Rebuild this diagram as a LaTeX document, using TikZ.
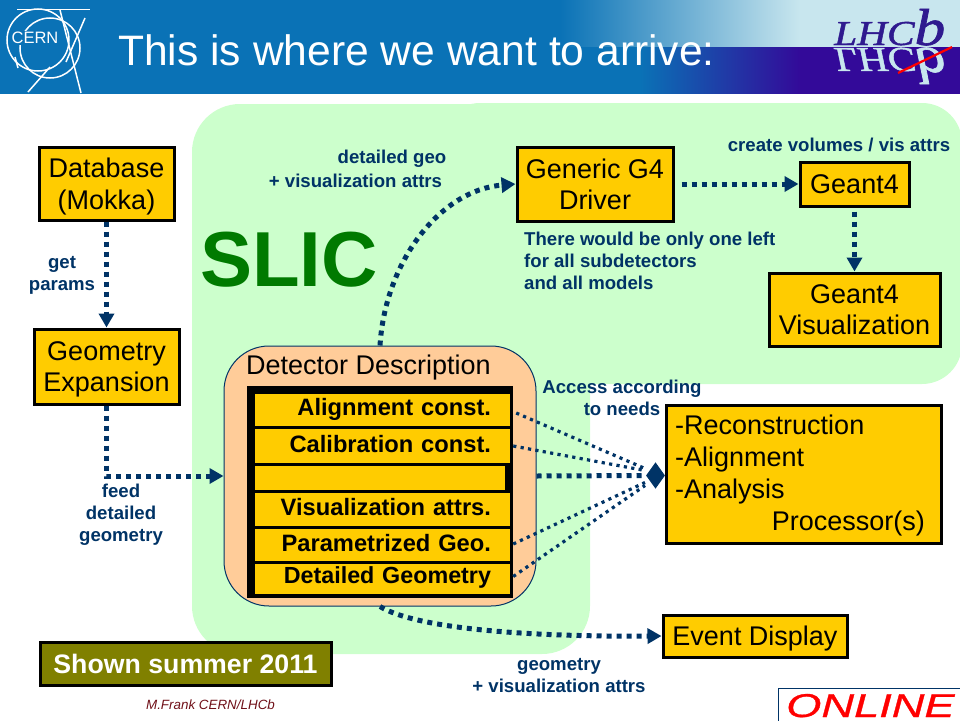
\documentclass[tikz,border=0pt]{standalone}
\usepackage{fontspec}
\setmainfont{Liberation Sans}
\newfontfamily\lhcfont[ItalicFeatures={FakeBold=1.2}]{Liberation Serif}
\newfontfamily\onlinefont[ItalicFeatures={FakeBold=0.8}]{Liberation Sans}
\usetikzlibrary{arrows.meta,shapes.geometric,calc}
\definecolor{barblue}{HTML}{0A72B6}
\definecolor{barlight}{HTML}{C8E6EE}
\definecolor{barpurple}{HTML}{330A99}
\definecolor{slicgreen}{HTML}{CCFFCC}
\definecolor{peach}{HTML}{FFCC99}
\definecolor{boxyellow}{HTML}{FFCC00}
\definecolor{navy}{HTML}{003366}
\definecolor{sliclabel}{HTML}{007A00}
\definecolor{olivebox}{HTML}{808000}
\definecolor{lhcpurple}{HTML}{2F1A8F}
\definecolor{authorred}{HTML}{701018}
\tikzset{
  box/.style={draw=black,line width=3pt,fill=boxyellow,inner sep=0pt,align=center,text depth=0pt,font=\fontsize{27}{31.5}\selectfont},
  rowbox/.style={fill=boxyellow,inner ysep=0pt,inner xsep=19pt,text width=217pt,align=right,minimum width=255pt,font=\fontsize{23.7}{28}\selectfont\bfseries},
  lbl/.style={text=navy,inner sep=0pt,align=center,font=\fontsize{18.6}{22}\selectfont\bfseries},
  thick link/.style={draw=navy,line width=5pt,dash pattern=on 5pt off 5pt},
  thin link/.style={draw=navy,line width=3.2pt,dash pattern=on 3.2pt off 4.3pt},
  tip/.style={-{Triangle[length=14pt,width=15pt]}},
  logo/.style={draw=white,line width=1.5pt}
}
\begin{document}
\begin{tikzpicture}[x=1pt,y=-1pt]
\useasboundingbox (0,0) rectangle (960,720);
% header
\fill[barblue] (0,0) rectangle (560,47);
\shade[left color=barblue,right color=barlight] (560,0) rectangle (800,47);
\fill[barlight] (800,0) rectangle (960,47);
\fill[barblue] (0,47) rectangle (640,93.5);
\shade[left color=barblue,right color=barpurple] (640,47) rectangle (800,93.5);
\fill[barpurple] (800,47) rectangle (960,93.5);
\node[text=white,inner sep=0pt,anchor=base west,font=\fontsize{42.6}{50}\selectfont] (title) at (118,65) {This is where we want to arrive:};
% CERN logo
\draw[logo] (38,40) circle (31);
\draw[logo] (50,48) circle (30);
\draw[logo] (17,9.3) -- (90,9.3);
\draw[logo] (85,18) -- (66,62);
\draw[logo] (60,10) -- (81,93);
\draw[logo] (28,92) -- (50,67);
\draw[logo] (15,57) -- (18,68);
\node[fill=barblue,inner sep=1pt,text=white,font=\fontsize{16.5}{18}\selectfont] (cern) at (35,38) {CERN};
% LHCb logo
\node[text=barlight,anchor=base west,inner sep=0pt,yscale=-1,xscale=1.18,transform shape,font=\lhcfont\itshape\fontsize{35}{40}\selectfont] (lhcm) at (834,48) {LHC{\fontsize{52}{52}\selectfont b}};
\node[text=lhcpurple,anchor=base west,inner sep=0pt,xscale=1.18,transform shape,font=\lhcfont\itshape\fontsize{35}{40}\selectfont] (lhc) at (834,45) {LHC{\fontsize{52}{52}\selectfont b}};
\draw[red,line width=2.2pt] (898,73) -- (952,47);
% green SLIC zone
\fill[slicgreen,rounded corners=48pt] (192,104) rectangle (590,654);
\fill[slicgreen,rounded corners=40pt] (440,103) rectangle (962,384);
\node[text=sliclabel,inner sep=0pt,font=\fontsize{78}{80}\selectfont\bfseries] (slic) at (289,260) {SLIC};
% detector description
\node[draw=navy,line width=1pt,fill=peach,rounded corners=45pt,minimum width=312pt,minimum height=260pt,inner sep=0pt] (det) at (380,476) {};
\node[inner sep=0pt,anchor=west,font=\fontsize{27}{32}\selectfont] (dettitle) at (246,367.5) {Detector Description};
\node[fill=black,minimum width=266pt,minimum height=212pt,inner sep=0pt] (stack) at (380,492) {};
\node[rowbox,minimum height=32pt,text height=17pt,text depth=6pt] (r1) at (382.5,410) {Alignment const.};
\node[rowbox,minimum height=34pt,text height=18pt,text depth=6pt] (r2) at (382.5,446) {Calibration const.};
\node[fill=boxyellow,minimum width=250pt,minimum height=24pt,inner sep=0pt] (r3) at (380,478) {};
\node[rowbox,minimum height=33pt,text height=18pt,text depth=6pt] (r4) at (382.5,509.5) {Visualization attrs.};
\node[rowbox,minimum height=32pt,text height=18pt,text depth=6pt] (r5) at (382.5,545) {Parametrized Geo.};
\node[rowbox,minimum height=30pt,text height=18pt,text depth=8pt,font=\fontsize{23.3}{28}\selectfont\bfseries] (r6) at (382.5,578.5) {Detailed Geometry};
% boxes
\node[box,minimum width=135pt,minimum height=73pt] (db) at (106.5,183.5) {Database\\(Mokka)};
\node[box,minimum width=145pt,minimum height=75pt] (geo) at (106.5,366.5) {Geometry\\Expansion};
\node[box,minimum width=156pt,minimum height=74pt] (gen) at (595,184) {Generic G4\\Driver};
\node[box,minimum width=109pt,minimum height=44pt] (g4) at (854.5,184) {Geant4};
\node[box,minimum width=171pt,minimum height=73pt] (vis) at (854.5,309.5) {Geant4\\Visualization};
\node[box,minimum width=275pt,minimum height=138pt] (proc) at (803.5,474) {};
\node[inner sep=0pt,anchor=base west,font=\fontsize{27}{32}\selectfont] (p1) at (675,434) {-Reconstruction};
\node[inner sep=0pt,anchor=base west,font=\fontsize{27}{32}\selectfont] (p2) at (675,466) {-Alignment};
\node[inner sep=0pt,anchor=base west,font=\fontsize{27}{32}\selectfont] (p3) at (675,498) {-Analysis};
\node[inner sep=0pt,anchor=base east,font=\fontsize{27}{32}\selectfont] (p4) at (925,530) {Processor(s)};
\node[box,minimum width=184pt,minimum height=42pt] (evt) at (755,636) {Event Display};
\node[draw=black,line width=3pt,fill=olivebox,text=white,minimum width=291pt,minimum height=43pt,inner sep=0pt,font=\fontsize{26.7}{30}\selectfont\bfseries] (shown) at (185.5,663.5) {Shown summer 2011};
% hub of the access lines
\node[diamond,fill=navy,draw=navy,line width=1pt,inner sep=0pt,minimum width=18pt,minimum height=25pt] (hub) at (655.5,475.5) {};
% connectors
\draw[thick link,tip] (db.south) -- (geo.north);
\draw[thick link,tip] (geo.south) |- (det.west);
\draw[thick link,tip] (det.north) .. controls (385,262) and (440,190) .. (gen.west);
\draw[thick link,tip,shorten <=7pt] (gen.east) -- (g4.west);
\draw[thick link,tip,shorten <=4pt] (g4.south) -- (vis.north);
\draw[thick link,tip] (det.south) .. controls (410,625) and (500,637) .. (evt.west);
\draw[thin link] ($(r1.east)+(6,3)$) -- ($(hub.west)+(-1,-7)$);
\draw[thin link] ($(r2.east)+(3,0)$) -- ($(hub.west)+(-1,-5)$);
\draw[thick link] (det.east) -- (hub.west);
\draw[thin link] ($(r5.east)+(3,-1)$) -- ($(hub.west)+(-1,7)$);
\draw[thin link] ($(r6.east)+(3,-2)$) -- ($(hub.west)+(-1,10)$);
% labels
\node[lbl] (l1) at (392,158.5) {detailed geo};
\node[lbl] (l2) at (355.5,181) {+ visualization attrs};
\node[lbl] (l3) at (839,144.5) {create volumes / vis attrs};
\node[lbl,align=left,anchor=west] (l4) at (524,261) {There would be only one left\\for all subdetectors\\and all models};
\node[lbl] (l5) at (62,275) {get\\params};
\node[lbl] (l6) at (121,515) {feed\\detailed\\geometry};
\node[lbl] (l7) at (622,398) {Access according\\to needs};
\node[lbl] (l8) at (559,676) {geometry\\+ visualization attrs};
\node[inner sep=0pt,text=authorred,font=\fontsize{13.4}{15}\selectfont\itshape] (author) at (210.5,705) {M.Frank CERN/LHCb};
% ONLINE logo
\draw[draw=navy,line width=1pt,fill=white] (778.5,688.5) rectangle (965,725);
\node[text=red,inner sep=0pt,anchor=base west,xscale=1.37,transform shape,font=\onlinefont\fontsize{33}{34}\selectfont\itshape] (online) at (786,717) {ONLINE};
\end{tikzpicture}
\end{document}
